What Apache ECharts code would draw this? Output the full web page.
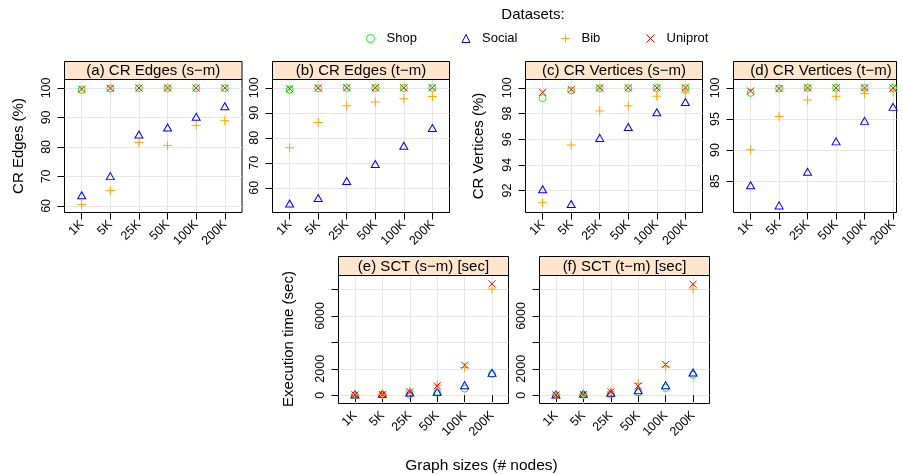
<!DOCTYPE html>
<html><head><meta charset="utf-8">
<script src="https://cdn.jsdelivr.net/npm/echarts@6/dist/echarts.min.js"></script>
<style>html,body{margin:0;padding:0;background:#fff}#c{width:903px;height:474px}</style>
</head><body><div id="c"></div>
<script>
// ---------- data ----------
const sizes = ['1K', '5K', '25K', '50K', '100K', '200K'];
const datasets = ['Shop', 'Social', 'Bib', 'Uniprot'];

// (a) CR Edges (s-m) [%]
const shopA   = [99.3, 99.8, 99.9, 99.9, 99.9, 99.9];
const socialA = [63.6, 70.1, 84.2, 86.6, 90.2, 93.8];
const bibA    = [60.5, 65.2, 81.5, 80.5, 87.3, 88.9];
const uniA    = [99.6, 99.9, 100, 100, 100, 100];
// (b) CR Edges (t-m) [%]
const shopB   = [99.2, 99.8, 99.9, 99.9, 99.9, 99.9];
const socialB = [53.7, 55.9, 62.7, 69.5, 76.8, 83.9];
const bibB    = [76.0, 86.1, 92.8, 94.3, 95.6, 96.5];
const uniB    = [99.6, 99.9, 100, 100, 100, 100];
// (c) CR Vertices (s-m) [%]
const shopC   = [99.2, 99.8, 99.97, 99.98, 99.98, 99.98];
const socialC = [92.1, 90.95, 96.1, 96.95, 98.1, 98.9];
const bibC    = [91.05, 95.55, 98.2, 98.6, 99.35, 99.6];
const uniC    = [99.65, 99.87, 100, 100, 100, 100];
// (d) CR Vertices (t-m) [%]
const shopD   = [99.2, 99.9, 100, 100, 100, 100];
const socialD = [84.35, 81.1, 86.5, 91.4, 94.7, 96.95];
const bibD    = [90.05, 95.4, 98.05, 98.65, 99.1, 99.4];
const uniD    = [99.5, 99.9, 100, 100, 100, 100];
// (e) SCT (s-m) [sec]
const shopE   = [10, 30, 60, 180, 500, 1610];
const socialE = [60, 100, 200, 260, 760, 1690];
const bibE    = [30, 60, 300, 760, 2090, 8030];
const uniE    = [20, 50, 250, 710, 2270, 8430];
// (f) SCT (t-m) [sec]
const shopF   = [10, 30, 60, 200, 550, 1540];
const socialF = [60, 100, 180, 380, 760, 1720];
const bibF    = [30, 60, 250, 880, 2150, 8030];
const uniF    = [20, 50, 250, 700, 2330, 8400];

// tick values
const ticksEdgesA = [60, 70, 80, 90, 100];
const ticksEdgesB = [60, 70, 80, 90, 100];
const ticksVertC  = [92, 94, 96, 98, 100];
const ticksVertD  = [85, 90, 95, 100];
const ticksTime   = [0, 2000, 4000, 6000, 8000];
const labelsTime  = [0, 2000, 6000];
const xTicks = [1, 2, 3, 4, 5, 6];

// ---------- layout / style ----------
const FONT = 'Liberation Sans, Arial, Helvetica, sans-serif';
const colors = ['#00FF00', '#0000FF', '#FFA500', '#FF0000'];
const symbols = ['circle', 'triangle', 'path://M0,5L10,5M5,0L5,10', 'path://M0,0L10,10M10,0L0,10'];
const symSizes = [7, [8, 7], 9, 7];

const panels = [
  {title: '(a) CR Edges (s\u2212m)', data: [shopA, socialA, bibA, uniA], l: 64.5, r: 242, t: 79.5, b: 212.5, st: 61.5, ymin: 57.76, ymax: 102.85, ticks: ticksEdgesA, labels: ticksEdgesA, xmax: 6.6},
  {title: '(b) CR Edges (t\u2212m)', data: [shopB, socialB, bibB, uniB], l: 272.5, r: 449.5, t: 79.5, b: 212.5, st: 61.5, ymin: 50.1, ymax: 103.3, ticks: ticksEdgesB, labels: ticksEdgesB, xmax: 6.6},
  {title: '(c) CR Vertices (s\u2212m)', data: [shopC, socialC, bibC, uniC], l: 525.5, r: 702.5, t: 79.5, b: 212.5, st: 61.5, ymin: 90.29, ymax: 100.65, ticks: ticksVertC, labels: ticksVertC, xmax: 6.6},
  {title: '(d) CR Vertices (t\u2212m)', data: [shopD, socialD, bibD, uniD], l: 733.5, r: 896.5, t: 79.5, b: 212.5, st: 61.5, ymin: 79.96, ymax: 101.35, ticks: ticksVertD, labels: ticksVertD, xmax: 6.12, tcx: 821},
  {title: '(e) SCT (s\u2212m) [sec]', data: [shopE, socialE, bibE, uniE], l: 338.5, r: 508.5, t: 275.5, b: 403.5, st: 256.5, ymin: -628, ymax: 9060, ticks: ticksTime, labels: labelsTime, xmax: 6.6},
  {title: '(f) SCT (t\u2212m) [sec]', data: [shopF, socialF, bibF, uniF], l: 539.5, r: 709.5, t: 275.5, b: 403.5, st: 256.5, ymin: -628, ymax: 9060, ticks: ticksTime, labels: labelsTime, xmax: 6.6}
];

const grid = [], xAxis = [], yAxis = [], series = [], graphic = [];
panels.forEach((p, i) => {
  grid.push({left: p.l, top: p.t, width: p.r - p.l, height: p.b - p.t, show: true,
    borderColor: '#000', borderWidth: 1, backgroundColor: 'transparent', containLabel: false});
  xAxis.push({type: 'value', gridIndex: i, min: 0.4, max: p.xmax,
    axisLine: {show: false},
    axisTick: {show: true, length: 7, customValues: xTicks, lineStyle: {color: '#000', width: 1}},
    axisLabel: {customValues: xTicks, rotate: 45, margin: 10, fontSize: 12.5, color: '#000', fontFamily: FONT,
      formatter: v => sizes[Math.round(v) - 1]},
    splitLine: {show: true, lineStyle: {color: '#e6e6e6', width: 1}}});
  yAxis.push({type: 'value', gridIndex: i, min: p.ymin, max: p.ymax,
    axisLine: {show: false},
    axisTick: {show: true, length: 7, customValues: p.ticks, lineStyle: {color: '#000', width: 1}},
    axisLabel: {customValues: p.labels, rotate: 90, margin: 11, fontSize: 12.5, color: '#000', fontFamily: FONT,
      formatter: v => String(v)},
    splitLine: {show: true, lineStyle: {color: '#e6e6e6', width: 1}}});
  p.data.forEach((vals, k) => {
    series.push({type: 'scatter', name: datasets[k], xAxisIndex: i, yAxisIndex: i,
      data: vals.map((v, j) => [j + 1, v]),
      symbol: symbols[k], symbolSize: symSizes[k], symbolKeepAspect: true,
      itemStyle: {color: 'rgba(0,0,0,0)', borderColor: colors[k], borderWidth: 1, opacity: 1},
      emphasis: {disabled: true}, silent: true, z: 2 + k});
  });
  // strip
  graphic.push({type: 'rect', shape: {x: p.l, y: p.st, width: p.r - p.l, height: p.t - p.st},
    style: {fill: '#FFE5CC', stroke: '#000', lineWidth: 1}, silent: true, z: 10});
  graphic.push({type: 'text', x: p.tcx || (p.l + p.r) / 2, y: (p.st + p.t) / 2 + 0.5,
    style: {text: p.title, fontSize: 15, fontFamily: FONT, fill: '#000', align: 'center', verticalAlign: 'middle'},
    silent: true, z: 11});
});

function vtext(txt, x, y) {
  return {type: 'text', x: x, y: y, rotation: Math.PI / 2,
    style: {text: txt, fontSize: 15, fontFamily: FONT, fill: '#000', align: 'center', verticalAlign: 'middle'}, silent: true};
}
graphic.push(vtext('CR Edges (%)', 18.5, 146));
graphic.push(vtext('CR Vertices (%)', 478.5, 146));
graphic.push(vtext('Execution time (sec)', 289, 339));
graphic.push({type: 'text', x: 481.5, y: 466,
  style: {text: 'Graph sizes (# nodes)', fontSize: 15.5, fontFamily: FONT, fill: '#000', align: 'center', verticalAlign: 'middle'}, silent: true});
graphic.push({type: 'text', x: 533, y: 15,
  style: {text: 'Datasets:', fontSize: 15, fontFamily: FONT, fill: '#000', align: 'center', verticalAlign: 'middle'}, silent: true});

const legendCenters = [365, 460.5, 560, 645];
const legend = datasets.map((d, k) => ({
  data: [d], left: legendCenters[k] - 4, top: 27, itemWidth: 8, itemHeight: 8, selectedMode: false,
  itemStyle: {borderWidth: 1},
  textStyle: {fontSize: 13, fontFamily: FONT, color: '#000', padding: [0, 0, 0, 7]}
}));

const chart = echarts.init(document.getElementById('c'), null, {renderer: 'canvas'});
chart.setOption({animation: false, backgroundColor: '#fff', grid, xAxis, yAxis, series, graphic, legend});
</script></body></html>
